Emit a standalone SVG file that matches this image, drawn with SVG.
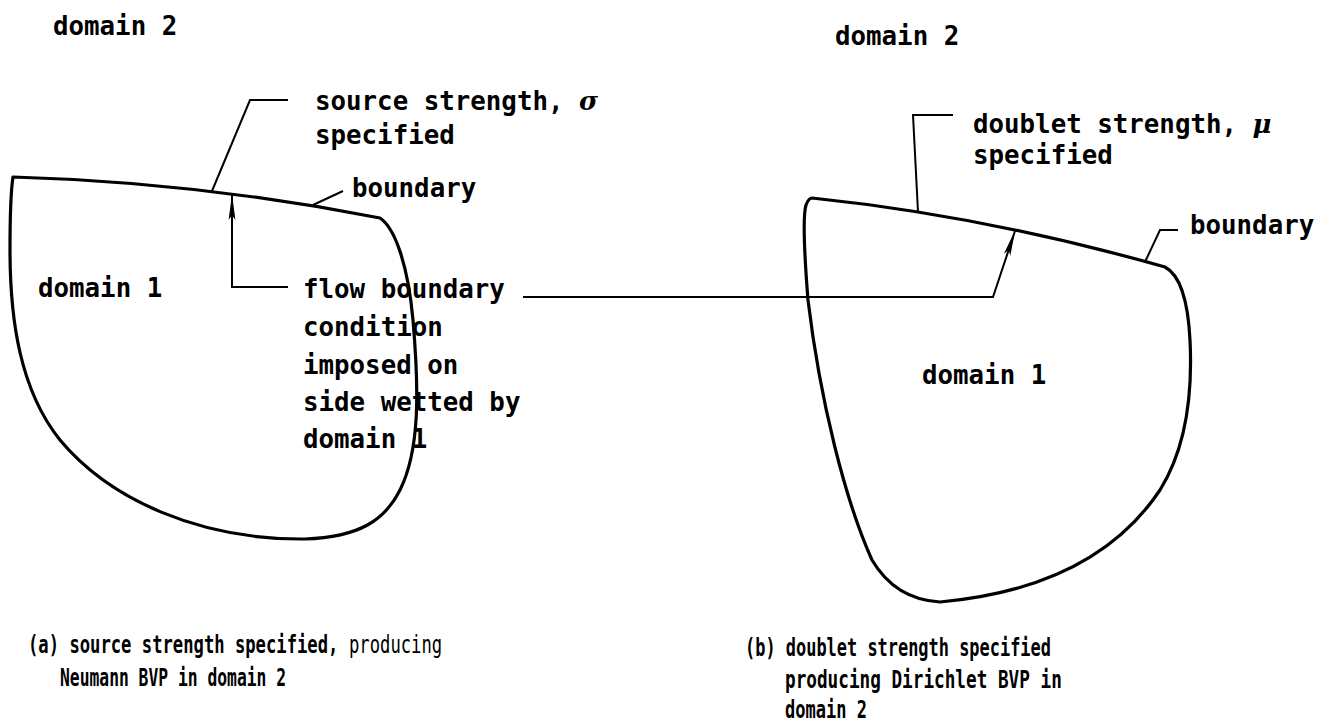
<svg xmlns="http://www.w3.org/2000/svg" width="1324" height="727" viewBox="0 0 1324 727">
<style>
.lbl{font-family:"DejaVu Sans Mono","Liberation Mono",monospace;font-size:25.8px;font-weight:bold;fill:#000}
.cap{font-family:"DejaVu Sans Mono","Liberation Mono",monospace;font-size:25px;font-weight:bold;fill:#000}
.thin{font-weight:normal}
.shape{fill:none;stroke:#000;stroke-width:3.2;stroke-linejoin:round}
.lead{fill:none;stroke:#000;stroke-width:2}
.gk{font-style:italic;font-family:"DejaVu Serif","Liberation Serif",serif}
</style>
<defs>
<marker id="ah" viewBox="0 0 26 8" refX="25" refY="4" markerWidth="26" markerHeight="8" markerUnits="userSpaceOnUse" orient="auto">
<path d="M0,0.6 L26,4 L0,7.4 L5,4 Z" fill="#000"/>
</marker>
</defs>
<rect width="1324" height="727" fill="#fff"/>

<g id="left-domain2"><text class="lbl" x="53" y="35">domain 2</text></g>

<g id="left-shape">
<path class="shape" d="M13,177 Q196,182 380,218 C395,228 408,265 413,320 C419,390 420,450 400,490 C385,520 360,537 305,539 C200,540 110,500 60,440 C20,390 10,320 10,250 C10,210 11,190 13,177 Z"/>
<text class="lbl" x="38" y="297">domain 1</text>
</g>

<g id="left-source-label"><text class="lbl" x="315" y="110">source strength, <tspan class="gk">σ</tspan></text><text class="lbl" x="315" y="144">specified</text></g>
<g id="left-boundary-label"><text class="lbl" x="352" y="197">boundary</text></g>
<g id="flow-label">
<text class="lbl" x="303" y="298">flow boundary</text>
<text class="lbl" x="303" y="336">condition</text>
<text class="lbl" x="303" y="374">imposed on</text>
<text class="lbl" x="303" y="411">side wetted by</text>
<text class="lbl" x="303" y="448">domain 1</text>
</g>

<g id="right-domain2"><text class="lbl" x="835" y="45">domain 2</text></g>

<g id="right-shape">
<path class="shape" d="M812,198 Q985,216 1165,267 C1180,275 1188,300 1190,340 C1193,400 1185,450 1160,490 C1120,550 1050,592 940,602 C905,600 885,582 872,560 C845,500 820,400 808,300 C804,250 803,215 806,205 C808,200 810,198 812,198 Z"/>
<text class="lbl" x="922" y="384">domain 1</text>
</g>

<g id="right-doublet-label"><text class="lbl" x="973" y="133">doublet strength, <tspan class="gk">μ</tspan></text><text class="lbl" x="973" y="164">specified</text></g>
<g id="right-boundary-label"><text class="lbl" x="1190" y="234">boundary</text></g>

<g id="connectors">
<path class="lead" d="M212,191 L250,100 H288"/>
<path class="lead" d="M313,205 L343,191"/>
<path class="lead" marker-end="url(#ah)" d="M288,287 H232 V195"/>
<path class="lead" d="M918,212 L913,115 H953"/>
<path class="lead" d="M1145,262 L1160,230 H1178"/>
<path class="lead" marker-end="url(#ah)" d="M523,297 H993 L1015,231"/>
</g>

<g id="caption-a">
<text class="cap" transform="translate(28,653) scale(0.688,1)">(a) source strength specified,</text>
<text class="cap thin" transform="translate(349,653) scale(0.688,1)">producing</text>
<text class="cap" transform="translate(60,686) scale(0.653,1)">Neumann BVP in domain 2</text>
</g>
<g id="caption-b">
<text class="cap" transform="translate(745,656) scale(0.678,1)">(b) doublet strength specified</text>
<text class="cap" transform="translate(785,688) scale(0.708,1)">producing Dirichlet BVP in</text>
<text class="cap" transform="translate(785,718) scale(0.681,1)">domain 2</text>
</g>
</svg>
